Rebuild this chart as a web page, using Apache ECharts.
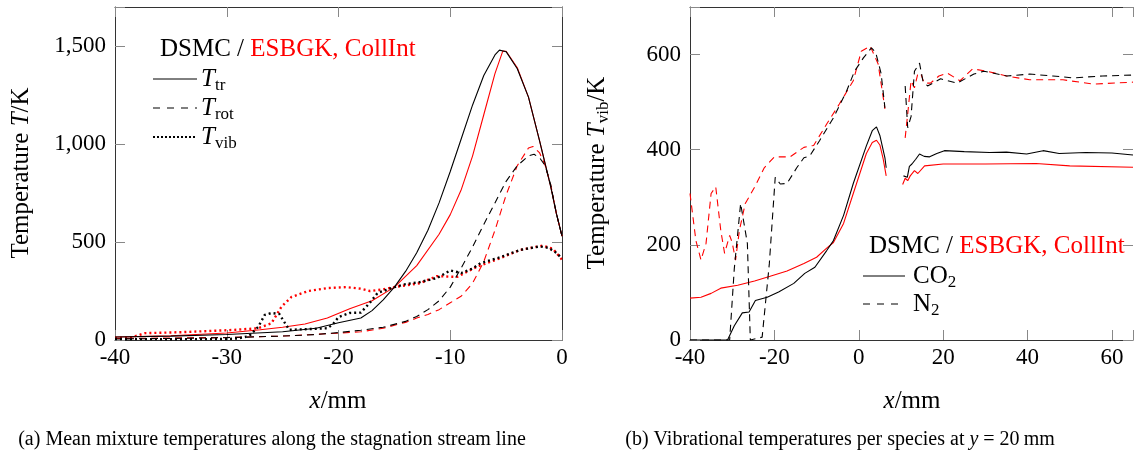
<!DOCTYPE html>
<html>
<head>
<meta charset="utf-8">
<script src="https://cdn.jsdelivr.net/npm/echarts@6/dist/echarts.min.js"></script>
<style>html,body{margin:0;padding:0;background:#fff;}#c{width:1136px;height:461px;}</style>
</head>
<body>
<div id="c"></div>
<script>
// ---------- (a) mean mixture temperatures ----------
const ttrDsmcX = [-40,-35,-30,-25,-22,-20,-18,-17,-16,-15,-14,-13,-12,-11,-10,-9,-8,-7,-6,-5.6,-5,-4,-3,-2,-1,-0.5,0];
const ttrDsmcT = [15,20,28,42,60,88,112,150,205,270,350,445,560,700,860,1030,1200,1350,1455,1480,1472,1385,1240,1015,780,645,530];
const ttrEsbgkX = [-40,-35,-30,-27,-25,-23,-21,-19,-17,-15,-13,-11,-10,-9,-8,-7,-6,-5.3,-5,-4,-3,-2,-1,-0.5,0];
const ttrEsbgkT = [15,22,36,52,65,82,112,160,200,270,380,540,640,770,940,1150,1360,1475,1474,1390,1240,1015,780,645,530];
const trotDsmcX = [-40,-35,-30,-25,-22,-20,-18,-16,-14,-13,-12,-11,-10,-9,-8,-7,-6,-5,-4,-3,-2.5,-2,-1.5,-1,-0.5,0];
const trotDsmcT = [5,8,12,20,28,38,50,65,95,120,155,200,270,370,475,590,700,810,890,940,948,930,890,790,645,530];
const trotEsbgkX = [-40,-35,-30,-25,-20,-18,-16,-14,-13,-12,-11,-10,-9,-8,-7,-6,-5,-4,-3,-2.6,-2,-1.5,-1,-0.5,0];
const trotEsbgkT = [8,10,13,20,35,42,60,90,112,130,155,190,225,290,400,560,740,890,980,988,955,890,790,645,530];
const tvibDsmcX = [-40,-35,-30,-29,-28,-27.2,-26.6,-26,-25.3,-24.8,-24.4,-23,-21,-20.5,-20,-19,-18,-17.2,-16.5,-15,-14,-12.7,-11.2,-10,-9,-8,-7.3,-5.5,-3.8,-2,-1.2,-0.5,0];
const tvibDsmcT = [5,4,5,8,20,66,128,138,133,87,52,55,60,80,117,138,140,190,240,270,285,296,316,355,342,365,392,423,459,478,470,445,415];
const tvibEsbgkX = [-40,-38.5,-37.3,-34,-29.5,-27.2,-26,-25.1,-24.2,-22.7,-21,-19.3,-18,-17.2,-16,-15,-12.7,-11.2,-9.4,-7.6,-5.5,-3.8,-1.7,-0.8,0];
const tvibEsbgkT = [10,14,35,40,51,60,85,170,220,250,265,270,262,250,258,270,290,326,322,374,418,459,482,465,410];

const xTicksA = [-40,-30,-20,-10,0];
const xTickLabelsA = ['-40','-30','-20','-10','0'];
const yTicksA = [0,500,1000,1500];
const yTickLabelsA = ['0','500','1,000','1,500'];

// ---------- (b) vibrational temperatures per species ----------
const co2DsmcX = [-40,-31.1,-29.5,-27.6,-26,-24.5,-21.7,-19,-15.4,-12.8,-10.4,-7.6,-6,-3.6,-1.3,1.8,3.2,4.2,5,6.2,6.5,8,10.6,11.5,12,12.6,13.5,14.4,15.5,16.8,18.5,20.3,25,31,35,39.8,43.7,47.5,53.8,60,65];
const co2DsmcT = [0,0,30,57,59,83,90,101,119,140,153,188,209,262,329,408,440,448,430,383,362,null,345,342,365,370,380,391,386,385,392,398,396,394,395,391,398,392,394,393,389];
const co2EsbgkX = [-40,-37.4,-35,-32.7,-28.7,-24.7,-21,-17,-13,-10,-7.6,-6,-3.6,-1.3,1.8,3.2,4.2,5,5.8,6.5,8,10.4,11,11.6,12.2,13.2,14,15.6,20,30,42,50,65];
const co2EsbgkT = [88,90,98,109,115,124,134,145,161,174,193,205,245,308,392,415,420,410,380,345,null,327,340,335,345,356,350,366,370,370,371,366,363];
const n2DsmcX = [-40,-30.6,-29.5,-28,-27.8,-26.4,-25.7,-22.9,-21.2,-19.8,-18.6,-17,-14.7,-13,-11.6,-9.3,-6,-2.9,-1,1.1,3,4,5.3,6.2,8,11,11.6,12.4,13.2,14.4,15.2,16.3,19.4,23.3,27.3,29.7,35.1,40.5,46,50.8,57.8,65];
const n2DsmcT = [0,0,150,287,290,203,0,6,160,342,328,329,362,383,387,419,467,523,565,593,614,605,560,488,null,534,446,470,565,582,545,534,549,540,559,565,555,559,555,551,555,557];
const n2EsbgkX = [-40,-38.6,-37.4,-36.2,-35,-33.9,-32.7,-31.8,-30.6,-30,-29.2,-28.3,-26.9,-24.7,-22.4,-20,-16.3,-13,-10.7,-7.6,-4.6,-1.3,0.6,2.7,4.6,6.2,8,11,11.6,12.4,13.2,14,14.7,15.5,17,19,21,24,27,30.4,35,40.5,48.4,55.5,65];
const n2EsbgkT = [308,209,168,203,308,322,230,182,220,205,168,230,287,321,362,385,385,405,409,454,496,545,607,618,580,486,null,425,475,545,530,560,560,540,540,555,561,545,570,565,555,547,547,538,542];

const xTicksB = [-40,-20,0,20,40,60];
const xTickLabelsB = ['-40','-20','0','20','40','60'];
const yTicksB = [0,200,400,600];
const yTickLabelsB = ['0','200','400','600'];

// ---------- build ----------
const FONT = 'Liberation Serif';
const RED = '#ff0000', BLACK = '#000000';
function pairs(xs, ys){ return xs.map((x,i)=>[x, ys[i]===null ? '-' : ys[i]]); }
function fmt(ticks, labels){ return v => { const i = ticks.indexOf(v); return i<0 ? '' : labels[i]; }; }
function axisLineStyle(show){ return {show, onZero:false, lineStyle:{color:'#333', width:1}}; }
const tickStyle = {show:true, inside:true, length:10, lineStyle:{color:'#888', width:1}};
function xAx(grid, min, max, interval, ticks, labels, top){
  return {type:'value', gridIndex:grid, min, max, interval, position: top?'top':'bottom',
    axisLine:axisLineStyle(true), axisTick:tickStyle, splitLine:{show:false},
    axisLabel: top ? {show:false} : {show:true, color:'#000', fontFamily:FONT, fontSize:23, margin:6, formatter: fmt(ticks,labels)}};
}
function yAx(grid, min, max, interval, ticks, labels, right, hideLine){
  return {type:'value', gridIndex:grid, min, max, interval, position: right?'right':'left',
    axisLine:axisLineStyle(!hideLine), axisTick:tickStyle, splitLine:{show:false},
    axisLabel: right ? {show:false} : {show:true, color:'#000', fontFamily:FONT, fontSize:23, margin:9, formatter: fmt(ticks,labels)}};
}
function line(name, xi, yi, data, color, type, width){
  return {name, type:'line', xAxisIndex:xi, yAxisIndex:yi, data, symbol:'none', smooth:false, connectNulls:false,
    lineStyle:{color, width, type, cap:'butt'}, emphasis:{disabled:true}, animation:false, z: color===BLACK?3:2};
}
const DASH = [7,5], DOT = [2,3];

const richBase = {
  r:{fontFamily:FONT, fontSize:25, fill:'#000', lineHeight:30},
  red:{fontFamily:FONT, fontSize:25, fill:RED, lineHeight:30},
  i:{fontFamily:FONT, fontSize:25, fontStyle:'italic', fill:'#000', lineHeight:30},
  s:{fontFamily:FONT, fontSize:17, fill:'#000', lineHeight:16, verticalAlign:'bottom'}
};
function txt(x, y, text, opts){
  opts = opts||{};
  return {type:'text', x, y, rotation: opts.rot||0, silent:true,
    style:{text, rich:richBase, align: opts.align||'left', verticalAlign:'middle', fontFamily:FONT, fontSize:25, fill:'#000'}};
}
function legLine(x1, x2, y, type){
  return {type:'line', silent:true, shape:{x1, y1:y, x2, y2:y}, style:{stroke:'#000', lineWidth: type==='dot'?2:1, lineDash: type==='dash'?[7,7]:(type==='dot'?[2,2]:null)}};
}

const option = {
  animation:false,
  grid:[{left:115, top:7, width:447, height:333}, {left:690, top:7, width:446, height:333}],
  xAxis:[xAx(0,-40,0,10,xTicksA,xTickLabelsA,false), xAx(0,-40,0,10,xTicksA,xTickLabelsA,true),
         xAx(1,-40,65,20,xTicksB,xTickLabelsB,false), xAx(1,-40,65,20,xTicksB,xTickLabelsB,true)],
  yAxis:[yAx(0,0,1700,500,yTicksA,yTickLabelsA,false), yAx(0,0,1700,500,yTicksA,yTickLabelsA,true),
         yAx(1,0,700,200,yTicksB,yTickLabelsB,false), yAx(1,0,700,200,yTicksB,yTickLabelsB,true,true)],
  series:[
    line('ESBGK Ttr',0,0,pairs(ttrEsbgkX,ttrEsbgkT),RED,'solid',1.1),
    line('ESBGK Trot',0,0,pairs(trotEsbgkX,trotEsbgkT),RED,DASH,1.1),
    line('ESBGK Tvib',0,0,pairs(tvibEsbgkX,tvibEsbgkT),RED,DOT,2.4),
    line('DSMC Ttr',0,0,pairs(ttrDsmcX,ttrDsmcT),BLACK,'solid',1.1),
    line('DSMC Trot',0,0,pairs(trotDsmcX,trotDsmcT),BLACK,DASH,1.1),
    line('DSMC Tvib',0,0,pairs(tvibDsmcX,tvibDsmcT),BLACK,DOT,2.4),
    line('ESBGK CO2',2,2,pairs(co2EsbgkX,co2EsbgkT),RED,'solid',1.1),
    line('ESBGK N2',2,2,pairs(n2EsbgkX,n2EsbgkT),RED,DASH,1.1),
    line('DSMC CO2',2,2,pairs(co2DsmcX,co2DsmcT),BLACK,'solid',1.1),
    line('DSMC N2',2,2,pairs(n2DsmcX,n2DsmcT),BLACK,DASH,1.1)
  ],
  graphic:[
    // y-axis names
    txt(21, 173, '{r|Temperature }{i|T}{r|/K}', {rot:Math.PI/2, align:'center'}),
    txt(597, 173, '{r|Temperature }{i|T}{s|vib}{r|/K}', {rot:Math.PI/2, align:'center'}),
    // x-axis names
    txt(338, 401, '{i|x}{r|/mm}', {align:'center'}),
    txt(912, 401, '{i|x}{r|/mm}', {align:'center'}),
    // legend (a)
    txt(160, 49, '{r|DSMC / }{red|ESBGK, CollInt}'),
    legLine(153, 197, 79, 'solid'), txt(201, 79, '{i|T}{s|tr}'),
    legLine(153, 197, 108, 'dash'), txt(201, 108, '{i|T}{s|rot}'),
    legLine(153, 197, 137, 'dot'), txt(201, 137, '{i|T}{s|vib}'),
    // legend (b)
    txt(869, 246, '{r|DSMC / }{red|ESBGK, CollInt}'),
    legLine(863, 905, 276, 'solid'), txt(913, 276, '{r|CO}{s|2}'),
    legLine(863, 905, 304, 'dash'), txt(913, 304, '{r|N}{s|2}'),
    // captions
    {type:'text', x:272, y:440, silent:true, style:{text:'(a) Mean mixture temperatures along the stagnation stream line', align:'center', verticalAlign:'middle', fontFamily:FONT, fontSize:20, fill:'#000'}},
    {type:'text', x:840, y:440, silent:true, style:{text:'{n|(b) Vibrational temperatures per species at }{it|y}{n| = 20\u2009mm}', rich:{n:{fontFamily:FONT,fontSize:20,fill:'#000'}, it:{fontFamily:FONT,fontSize:20,fontStyle:'italic',fill:'#000'}}, align:'center', verticalAlign:'middle'}}
  ]
};
const chart = echarts.init(document.getElementById('c'), null, {renderer:'canvas'});
chart.setOption(option);
</script>
</body>
</html>
